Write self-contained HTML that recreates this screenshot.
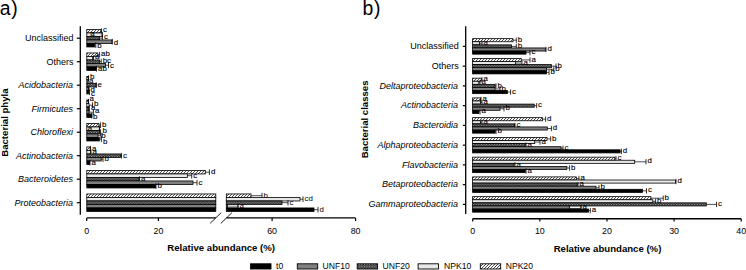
<!DOCTYPE html>
<html><head><meta charset="utf-8"><style>
html,body{margin:0;padding:0;background:#fff;width:746px;height:270px;overflow:hidden}
svg{display:block}
text{font-family:"Liberation Sans", sans-serif;fill:#000}
.s{stroke:#000;stroke-width:0.12px}
</style></head><body>
<svg width="746" height="270" viewBox="0 0 746 270">
<defs>
<pattern id="hatch" patternUnits="userSpaceOnUse" width="3" height="3">
<rect width="3" height="3" fill="#fff"/>
<path d="M-1,1 L1,-1 M0,3 L3,0 M2,4 L4,2" stroke="#333" stroke-width="0.9"/>
</pattern>
<pattern id="dots" patternUnits="userSpaceOnUse" width="2.6" height="2.4">
<rect width="2.6" height="2.4" fill="#2a2a2a"/>
<rect x="0" y="0" width="1" height="1" fill="#b0b0b0"/>
<rect x="1.3" y="1.2" width="1" height="1" fill="#b0b0b0"/>
</pattern>
</defs>
<line x1="80.3" y1="26.2" x2="80.3" y2="214.7" stroke="#000" stroke-width="1.3"/>
<line x1="76.8" y1="38.20" x2="80.3" y2="38.20" stroke="#000" stroke-width="1.2"/>
<text x="73.60" y="41.20" font-size="9.0" text-anchor="end" font-weight="normal">Unclassified</text>
<rect x="86.80" y="29.45" width="14.10" height="3.50" fill="url(#hatch)" stroke="#000" stroke-width="0.8"/>
<line x1="100.90" y1="31.20" x2="101.50" y2="31.20" stroke="#000" stroke-width="0.7"/>
<line x1="101.50" y1="28.35" x2="101.50" y2="34.05" stroke="#000" stroke-width="0.8"/>
<text x="103.00" y="31.90" font-size="7.9" text-anchor="start" font-weight="normal" class="s">c</text>
<rect x="86.80" y="32.95" width="15.20" height="3.50" fill="#e8e8e8" stroke="#000" stroke-width="0.8"/>
<line x1="102.30" y1="31.85" x2="102.30" y2="37.55" stroke="#000" stroke-width="0.8"/>
<text x="90.30" y="35.80" font-size="7.9" text-anchor="start" font-weight="normal" class="s">a</text>
<rect x="86.80" y="36.45" width="12.80" height="3.50" fill="url(#dots)" stroke="#000" stroke-width="0.8"/>
<line x1="99.60" y1="38.20" x2="102.40" y2="38.20" stroke="#000" stroke-width="0.7"/>
<line x1="102.40" y1="35.35" x2="102.40" y2="41.05" stroke="#000" stroke-width="0.8"/>
<text x="103.90" y="39.00" font-size="7.9" text-anchor="start" font-weight="normal" class="s">c</text>
<rect x="86.80" y="39.95" width="25.20" height="3.50" fill="#808080" stroke="#000" stroke-width="0.8"/>
<line x1="112.30" y1="38.85" x2="112.30" y2="44.55" stroke="#000" stroke-width="0.8"/>
<text x="113.80" y="44.60" font-size="7.9" text-anchor="start" font-weight="normal" class="s">d</text>
<rect x="86.80" y="43.45" width="7.90" height="3.50" fill="#000" stroke="#000" stroke-width="0.8"/>
<line x1="94.70" y1="45.20" x2="95.80" y2="45.20" stroke="#000" stroke-width="0.7"/>
<line x1="95.80" y1="42.35" x2="95.80" y2="48.05" stroke="#000" stroke-width="0.8"/>
<text x="97.30" y="47.60" font-size="7.9" text-anchor="start" font-weight="normal" class="s">b</text>
<line x1="76.8" y1="61.70" x2="80.3" y2="61.70" stroke="#000" stroke-width="1.2"/>
<text x="73.60" y="64.70" font-size="9.0" text-anchor="end" font-weight="normal">Others</text>
<rect x="86.80" y="52.95" width="11.00" height="3.50" fill="url(#hatch)" stroke="#000" stroke-width="0.8"/>
<line x1="97.80" y1="54.70" x2="99.60" y2="54.70" stroke="#000" stroke-width="0.7"/>
<line x1="99.60" y1="51.85" x2="99.60" y2="57.55" stroke="#000" stroke-width="0.8"/>
<text x="101.10" y="55.80" font-size="7.9" text-anchor="start" font-weight="normal" class="s">ab</text>
<rect x="86.80" y="56.45" width="5.90" height="3.50" fill="#e8e8e8" stroke="#000" stroke-width="0.8"/>
<line x1="92.70" y1="58.20" x2="93.50" y2="58.20" stroke="#000" stroke-width="0.7"/>
<line x1="93.50" y1="55.35" x2="93.50" y2="61.05" stroke="#000" stroke-width="0.8"/>
<text x="95.00" y="59.40" font-size="7.9" text-anchor="start" font-weight="normal" class="s">a</text>
<rect x="86.80" y="59.95" width="12.70" height="3.50" fill="url(#dots)" stroke="#000" stroke-width="0.8"/>
<line x1="99.50" y1="61.70" x2="101.20" y2="61.70" stroke="#000" stroke-width="0.7"/>
<line x1="101.20" y1="58.85" x2="101.20" y2="64.55" stroke="#000" stroke-width="0.8"/>
<text x="102.70" y="62.60" font-size="7.9" text-anchor="start" font-weight="normal" class="s">bc</text>
<rect x="86.80" y="63.45" width="18.60" height="3.50" fill="#808080" stroke="#000" stroke-width="0.8"/>
<line x1="105.40" y1="65.20" x2="108.50" y2="65.20" stroke="#000" stroke-width="0.7"/>
<line x1="108.50" y1="62.35" x2="108.50" y2="68.05" stroke="#000" stroke-width="0.8"/>
<text x="110.00" y="68.20" font-size="7.9" text-anchor="start" font-weight="normal" class="s">c</text>
<rect x="86.80" y="66.95" width="9.20" height="3.50" fill="#000" stroke="#000" stroke-width="0.8"/>
<line x1="96.00" y1="68.70" x2="96.50" y2="68.70" stroke="#000" stroke-width="0.7"/>
<line x1="96.50" y1="65.85" x2="96.50" y2="71.55" stroke="#000" stroke-width="0.8"/>
<text x="98.00" y="71.40" font-size="7.9" text-anchor="start" font-weight="normal" class="s">ab</text>
<line x1="76.8" y1="85.20" x2="80.3" y2="85.20" stroke="#000" stroke-width="1.2"/>
<text x="73.00" y="88.20" font-size="9.0" text-anchor="end" font-weight="normal" font-style="italic">Acidobacteria</text>
<rect x="86.80" y="76.45" width="1.70" height="3.50" fill="url(#hatch)" stroke="#000" stroke-width="0.8"/>
<line x1="88.50" y1="75.35" x2="88.50" y2="81.05" stroke="#000" stroke-width="0.8"/>
<text x="90.00" y="78.70" font-size="7.9" text-anchor="start" font-weight="normal" class="s">b</text>
<rect x="86.80" y="79.95" width="1.20" height="3.50" fill="#e8e8e8" stroke="#000" stroke-width="0.8"/>
<line x1="88.00" y1="78.85" x2="88.00" y2="84.55" stroke="#000" stroke-width="0.8"/>
<text x="88.90" y="83.10" font-size="7.9" text-anchor="start" font-weight="normal" class="s">a</text>
<rect x="86.80" y="83.45" width="9.40" height="3.50" fill="url(#dots)" stroke="#000" stroke-width="0.8"/>
<line x1="96.20" y1="82.35" x2="96.20" y2="88.05" stroke="#000" stroke-width="0.8"/>
<text x="97.50" y="86.60" font-size="7.9" text-anchor="start" font-weight="normal" class="s">e</text>
<rect x="86.80" y="86.95" width="1.70" height="3.50" fill="#808080" stroke="#000" stroke-width="0.8"/>
<line x1="88.50" y1="88.70" x2="89.00" y2="88.70" stroke="#000" stroke-width="0.7"/>
<line x1="89.00" y1="85.85" x2="89.00" y2="91.55" stroke="#000" stroke-width="0.8"/>
<text x="90.40" y="91.50" font-size="7.9" text-anchor="start" font-weight="normal" class="s">d</text>
<rect x="86.80" y="90.45" width="1.70" height="3.50" fill="#000" stroke="#000" stroke-width="0.8"/>
<line x1="88.50" y1="92.20" x2="89.50" y2="92.20" stroke="#000" stroke-width="0.7"/>
<line x1="89.50" y1="89.35" x2="89.50" y2="95.05" stroke="#000" stroke-width="0.8"/>
<text x="90.90" y="95.50" font-size="7.9" text-anchor="start" font-weight="normal" class="s">c</text>
<line x1="76.8" y1="108.70" x2="80.3" y2="108.70" stroke="#000" stroke-width="1.2"/>
<text x="73.00" y="111.70" font-size="9.0" text-anchor="end" font-weight="normal" font-style="italic">Firmicutes</text>
<rect x="86.80" y="99.95" width="1.70" height="3.50" fill="url(#hatch)" stroke="#000" stroke-width="0.8"/>
<line x1="88.50" y1="98.85" x2="88.50" y2="104.55" stroke="#000" stroke-width="0.8"/>
<text x="89.50" y="100.90" font-size="7.9" text-anchor="start" font-weight="normal" class="s">a</text>
<rect x="86.80" y="103.45" width="2.20" height="3.50" fill="#e8e8e8" stroke="#000" stroke-width="0.8"/>
<line x1="89.00" y1="105.20" x2="92.50" y2="105.20" stroke="#000" stroke-width="0.7"/>
<line x1="92.50" y1="102.35" x2="92.50" y2="108.05" stroke="#000" stroke-width="0.8"/>
<text x="94.00" y="105.80" font-size="7.9" text-anchor="start" font-weight="normal" class="s">b</text>
<rect x="86.80" y="106.95" width="1.70" height="3.50" fill="url(#dots)" stroke="#000" stroke-width="0.8"/>
<line x1="88.50" y1="108.70" x2="89.40" y2="108.70" stroke="#000" stroke-width="0.7"/>
<line x1="89.40" y1="105.85" x2="89.40" y2="111.55" stroke="#000" stroke-width="0.8"/>
<text x="90.90" y="110.20" font-size="7.9" text-anchor="start" font-weight="normal" class="s">a</text>
<rect x="86.80" y="110.45" width="2.20" height="3.50" fill="#808080" stroke="#000" stroke-width="0.8"/>
<line x1="89.00" y1="112.20" x2="93.40" y2="112.20" stroke="#000" stroke-width="0.7"/>
<line x1="93.40" y1="109.35" x2="93.40" y2="115.05" stroke="#000" stroke-width="0.8"/>
<text x="94.90" y="113.30" font-size="7.9" text-anchor="start" font-weight="normal" class="s">a</text>
<rect x="86.80" y="113.95" width="5.00" height="3.50" fill="#000" stroke="#000" stroke-width="0.8"/>
<line x1="91.80" y1="112.85" x2="91.80" y2="118.55" stroke="#000" stroke-width="0.8"/>
<text x="93.10" y="119.00" font-size="7.9" text-anchor="start" font-weight="normal" class="s">b</text>
<line x1="76.8" y1="132.20" x2="80.3" y2="132.20" stroke="#000" stroke-width="1.2"/>
<text x="73.00" y="135.20" font-size="9.0" text-anchor="end" font-weight="normal" font-style="italic">Chloroflexi</text>
<rect x="86.80" y="123.45" width="12.10" height="3.50" fill="url(#hatch)" stroke="#000" stroke-width="0.8"/>
<line x1="98.90" y1="125.20" x2="100.60" y2="125.20" stroke="#000" stroke-width="0.7"/>
<line x1="100.60" y1="122.35" x2="100.60" y2="128.05" stroke="#000" stroke-width="0.8"/>
<text x="102.00" y="126.70" font-size="7.9" text-anchor="start" font-weight="normal" class="s">b</text>
<rect x="86.80" y="126.95" width="12.50" height="3.50" fill="#e8e8e8" stroke="#000" stroke-width="0.8"/>
<line x1="99.60" y1="125.85" x2="99.60" y2="131.55" stroke="#000" stroke-width="0.8"/>
<text x="87.80" y="130.70" font-size="7.9" text-anchor="start" font-weight="normal" class="s">a</text>
<rect x="86.80" y="130.45" width="12.90" height="3.50" fill="url(#dots)" stroke="#000" stroke-width="0.8"/>
<line x1="99.70" y1="132.20" x2="100.60" y2="132.20" stroke="#000" stroke-width="0.7"/>
<line x1="100.60" y1="129.35" x2="100.60" y2="135.05" stroke="#000" stroke-width="0.8"/>
<text x="102.40" y="133.30" font-size="7.9" text-anchor="start" font-weight="normal" class="s">b</text>
<rect x="86.80" y="133.95" width="11.20" height="3.50" fill="#808080" stroke="#000" stroke-width="0.8"/>
<line x1="98.00" y1="135.70" x2="101.00" y2="135.70" stroke="#000" stroke-width="0.7"/>
<line x1="101.00" y1="132.85" x2="101.00" y2="138.55" stroke="#000" stroke-width="0.8"/>
<text x="101.20" y="138.00" font-size="7.9" text-anchor="start" font-weight="normal" class="s">b</text>
<rect x="86.80" y="137.45" width="12.50" height="3.50" fill="#000" stroke="#000" stroke-width="0.8"/>
<line x1="99.30" y1="139.20" x2="101.40" y2="139.20" stroke="#000" stroke-width="0.7"/>
<line x1="101.40" y1="136.35" x2="101.40" y2="142.05" stroke="#000" stroke-width="0.8"/>
<text x="102.90" y="144.00" font-size="7.9" text-anchor="start" font-weight="normal" class="s">b</text>
<line x1="76.8" y1="155.70" x2="80.3" y2="155.70" stroke="#000" stroke-width="1.2"/>
<text x="73.00" y="158.70" font-size="9.0" text-anchor="end" font-weight="normal" font-style="italic">Actinobacteria</text>
<rect x="86.80" y="146.95" width="3.30" height="3.50" fill="url(#hatch)" stroke="#000" stroke-width="0.8"/>
<line x1="90.10" y1="148.70" x2="90.50" y2="148.70" stroke="#000" stroke-width="0.7"/>
<line x1="90.50" y1="145.85" x2="90.50" y2="151.55" stroke="#000" stroke-width="0.8"/>
<text x="92.00" y="150.70" font-size="7.9" text-anchor="start" font-weight="normal" class="s">a</text>
<rect x="86.80" y="150.45" width="3.80" height="3.50" fill="#e8e8e8" stroke="#000" stroke-width="0.8"/>
<line x1="90.60" y1="152.20" x2="91.00" y2="152.20" stroke="#000" stroke-width="0.7"/>
<line x1="91.00" y1="149.35" x2="91.00" y2="155.05" stroke="#000" stroke-width="0.8"/>
<text x="92.50" y="154.20" font-size="7.9" text-anchor="start" font-weight="normal" class="s">a</text>
<rect x="86.80" y="153.95" width="33.70" height="3.50" fill="url(#dots)" stroke="#000" stroke-width="0.8"/>
<line x1="120.50" y1="155.70" x2="121.50" y2="155.70" stroke="#000" stroke-width="0.7"/>
<line x1="121.50" y1="152.85" x2="121.50" y2="158.55" stroke="#000" stroke-width="0.8"/>
<text x="123.00" y="157.70" font-size="7.9" text-anchor="start" font-weight="normal" class="s">c</text>
<rect x="86.80" y="157.45" width="14.40" height="3.50" fill="#808080" stroke="#000" stroke-width="0.8"/>
<line x1="101.20" y1="159.20" x2="103.00" y2="159.20" stroke="#000" stroke-width="0.7"/>
<line x1="103.00" y1="156.35" x2="103.00" y2="162.05" stroke="#000" stroke-width="0.8"/>
<text x="104.50" y="161.20" font-size="7.9" text-anchor="start" font-weight="normal" class="s">b</text>
<rect x="86.80" y="160.95" width="2.80" height="3.50" fill="#000" stroke="#000" stroke-width="0.8"/>
<line x1="89.60" y1="162.70" x2="90.00" y2="162.70" stroke="#000" stroke-width="0.7"/>
<line x1="90.00" y1="159.85" x2="90.00" y2="165.55" stroke="#000" stroke-width="0.8"/>
<text x="91.50" y="164.70" font-size="7.9" text-anchor="start" font-weight="normal" class="s">a</text>
<line x1="76.8" y1="179.20" x2="80.3" y2="179.20" stroke="#000" stroke-width="1.2"/>
<text x="73.00" y="182.20" font-size="9.0" text-anchor="end" font-weight="normal" font-style="italic">Bacteroidetes</text>
<rect x="86.80" y="170.45" width="118.50" height="3.50" fill="url(#hatch)" stroke="#000" stroke-width="0.8"/>
<line x1="205.30" y1="172.20" x2="209.40" y2="172.20" stroke="#000" stroke-width="0.7"/>
<line x1="209.40" y1="169.35" x2="209.40" y2="175.05" stroke="#000" stroke-width="0.8"/>
<text x="210.90" y="174.20" font-size="7.9" text-anchor="start" font-weight="normal" class="s">d</text>
<rect x="86.80" y="173.95" width="100.60" height="3.50" fill="#e8e8e8" stroke="#000" stroke-width="0.8"/>
<line x1="187.40" y1="175.70" x2="191.70" y2="175.70" stroke="#000" stroke-width="0.7"/>
<line x1="191.70" y1="172.85" x2="191.70" y2="178.55" stroke="#000" stroke-width="0.8"/>
<text x="193.20" y="177.70" font-size="7.9" text-anchor="start" font-weight="normal" class="s">c</text>
<rect x="86.80" y="177.45" width="52.20" height="3.50" fill="url(#dots)" stroke="#000" stroke-width="0.8"/>
<line x1="139.00" y1="179.20" x2="139.50" y2="179.20" stroke="#000" stroke-width="0.7"/>
<line x1="139.50" y1="176.35" x2="139.50" y2="182.05" stroke="#000" stroke-width="0.8"/>
<text x="141.00" y="181.20" font-size="7.9" text-anchor="start" font-weight="normal" class="s">a</text>
<rect x="86.80" y="180.95" width="106.20" height="3.50" fill="#808080" stroke="#000" stroke-width="0.8"/>
<line x1="193.00" y1="182.70" x2="197.00" y2="182.70" stroke="#000" stroke-width="0.7"/>
<line x1="197.00" y1="179.85" x2="197.00" y2="185.55" stroke="#000" stroke-width="0.8"/>
<text x="198.50" y="184.70" font-size="7.9" text-anchor="start" font-weight="normal" class="s">c</text>
<rect x="86.80" y="184.45" width="68.60" height="3.50" fill="#000" stroke="#000" stroke-width="0.8"/>
<line x1="155.40" y1="186.20" x2="156.00" y2="186.20" stroke="#000" stroke-width="0.7"/>
<line x1="156.00" y1="183.35" x2="156.00" y2="189.05" stroke="#000" stroke-width="0.8"/>
<text x="157.50" y="188.20" font-size="7.9" text-anchor="start" font-weight="normal" class="s">b</text>
<line x1="76.8" y1="202.70" x2="80.3" y2="202.70" stroke="#000" stroke-width="1.2"/>
<text x="73.00" y="205.70" font-size="9.0" text-anchor="end" font-weight="normal" font-style="italic">Proteobacteria</text>
<rect x="86.80" y="193.95" width="129.00" height="3.50" fill="url(#hatch)" stroke="#000" stroke-width="0.8"/>
<rect x="226.30" y="193.95" width="24.70" height="3.50" fill="url(#hatch)" stroke="#000" stroke-width="0.8"/>
<line x1="251.00" y1="195.70" x2="262.00" y2="195.70" stroke="#000" stroke-width="0.7"/>
<line x1="262.00" y1="192.85" x2="262.00" y2="198.55" stroke="#000" stroke-width="0.8"/>
<text x="263.50" y="197.90" font-size="7.9" text-anchor="start" font-weight="normal">b</text>
<rect x="86.80" y="197.45" width="129.00" height="3.50" fill="#e8e8e8" stroke="#000" stroke-width="0.8"/>
<rect x="226.30" y="197.45" width="73.70" height="3.50" fill="#e8e8e8" stroke="#000" stroke-width="0.8"/>
<line x1="300.00" y1="199.20" x2="303.00" y2="199.20" stroke="#000" stroke-width="0.7"/>
<line x1="303.00" y1="196.35" x2="303.00" y2="202.05" stroke="#000" stroke-width="0.8"/>
<text x="304.50" y="201.40" font-size="7.9" text-anchor="start" font-weight="normal">cd</text>
<rect x="86.80" y="200.95" width="129.00" height="3.50" fill="url(#dots)" stroke="#000" stroke-width="0.8"/>
<rect x="226.30" y="200.95" width="55.70" height="3.50" fill="url(#dots)" stroke="#000" stroke-width="0.8"/>
<line x1="282.00" y1="202.70" x2="288.00" y2="202.70" stroke="#000" stroke-width="0.7"/>
<line x1="288.00" y1="199.85" x2="288.00" y2="205.55" stroke="#000" stroke-width="0.8"/>
<text x="289.50" y="204.90" font-size="7.9" text-anchor="start" font-weight="normal">c</text>
<rect x="86.80" y="204.45" width="129.00" height="3.50" fill="#808080" stroke="#000" stroke-width="0.8"/>
<rect x="226.30" y="204.45" width="1.20" height="3.50" fill="#808080" stroke="#000" stroke-width="0.8"/>
<rect x="227.50" y="204.80" width="10.50" height="2.2" fill="#fff" stroke="#000" stroke-width="0.7"/>
<line x1="238.00" y1="203.35" x2="238.00" y2="209.05" stroke="#000" stroke-width="0.8"/>
<text x="239.50" y="208.40" font-size="7.9" text-anchor="start" font-weight="normal">a</text>
<rect x="86.80" y="207.95" width="129.00" height="3.50" fill="#000" stroke="#000" stroke-width="0.8"/>
<rect x="226.30" y="207.95" width="87.70" height="3.50" fill="#000" stroke="#000" stroke-width="0.8"/>
<line x1="314.00" y1="209.70" x2="318.00" y2="209.70" stroke="#000" stroke-width="0.7"/>
<line x1="318.00" y1="206.85" x2="318.00" y2="212.55" stroke="#000" stroke-width="0.8"/>
<text x="319.50" y="211.90" font-size="7.9" text-anchor="start" font-weight="normal">d</text>
<line x1="86.7" y1="217.9" x2="215.8" y2="217.9" stroke="#000" stroke-width="1.4"/>
<line x1="226.4" y1="217.9" x2="355.6" y2="217.9" stroke="#000" stroke-width="1.4"/>
<line x1="210.2" y1="223.3" x2="221.2" y2="212.7" stroke="#000" stroke-width="0.9"/>
<line x1="220.9" y1="223.3" x2="231.9" y2="212.7" stroke="#000" stroke-width="0.9"/>
<line x1="86.7" y1="217.9" x2="86.7" y2="221" stroke="#000" stroke-width="1.2"/>
<text x="86.70" y="233.70" font-size="8.9" text-anchor="middle" font-weight="normal">0</text>
<line x1="158.4" y1="217.9" x2="158.4" y2="221" stroke="#000" stroke-width="1.2"/>
<text x="158.40" y="233.70" font-size="8.9" text-anchor="middle" font-weight="normal">20</text>
<line x1="272.1" y1="217.9" x2="272.1" y2="221" stroke="#000" stroke-width="1.2"/>
<text x="272.10" y="233.70" font-size="8.9" text-anchor="middle" font-weight="normal">60</text>
<line x1="355.6" y1="217.9" x2="355.6" y2="221" stroke="#000" stroke-width="1.2"/>
<text x="355.60" y="233.70" font-size="8.9" text-anchor="middle" font-weight="normal">80</text>
<text x="221.20" y="251.30" font-size="9.6" text-anchor="middle" font-weight="bold">Relative abundance (%)</text>
<text transform="translate(7.9,122.6) rotate(-90)" font-size="9.6" font-weight="bold" text-anchor="middle">Bacterial phyla</text>
<text x="-0.3" y="14.7" font-size="19.4" letter-spacing="0.8">a)</text>
<line x1="465.7" y1="26.3" x2="465.7" y2="214" stroke="#000" stroke-width="1.3"/>
<line x1="462.8" y1="46.40" x2="465.7" y2="46.40" stroke="#000" stroke-width="1.2"/>
<text x="458.80" y="49.20" font-size="9.0" text-anchor="end" font-weight="normal">Unclassified</text>
<rect x="472.60" y="38.65" width="40.40" height="3.10" fill="url(#hatch)" stroke="#000" stroke-width="0.8"/>
<line x1="513.00" y1="40.20" x2="516.30" y2="40.20" stroke="#000" stroke-width="0.7"/>
<line x1="516.30" y1="37.55" x2="516.30" y2="42.85" stroke="#000" stroke-width="0.8"/>
<text x="517.70" y="41.80" font-size="7.9" text-anchor="start" font-weight="normal" class="s">b</text>
<rect x="472.60" y="41.75" width="7.00" height="3.10" fill="#e8e8e8" stroke="#000" stroke-width="0.8"/>
<line x1="479.60" y1="43.30" x2="482.00" y2="43.30" stroke="#000" stroke-width="0.7"/>
<line x1="482.00" y1="40.65" x2="482.00" y2="45.95" stroke="#000" stroke-width="0.8"/>
<text x="483.40" y="44.90" font-size="7.9" text-anchor="start" font-weight="normal" class="s">a</text>
<rect x="472.60" y="44.85" width="38.80" height="3.10" fill="url(#dots)" stroke="#000" stroke-width="0.8"/>
<line x1="511.40" y1="46.40" x2="516.30" y2="46.40" stroke="#000" stroke-width="0.7"/>
<line x1="516.30" y1="43.75" x2="516.30" y2="49.05" stroke="#000" stroke-width="0.8"/>
<text x="517.70" y="48.00" font-size="7.9" text-anchor="start" font-weight="normal" class="s">b</text>
<rect x="472.60" y="47.95" width="73.00" height="3.10" fill="#808080" stroke="#000" stroke-width="0.8"/>
<line x1="545.60" y1="49.50" x2="546.00" y2="49.50" stroke="#000" stroke-width="0.7"/>
<line x1="546.00" y1="46.85" x2="546.00" y2="52.15" stroke="#000" stroke-width="0.8"/>
<text x="547.40" y="51.10" font-size="7.9" text-anchor="start" font-weight="normal" class="s">d</text>
<rect x="472.60" y="51.05" width="53.40" height="3.10" fill="#000" stroke="#000" stroke-width="0.8"/>
<line x1="526.00" y1="52.60" x2="530.00" y2="52.60" stroke="#000" stroke-width="0.7"/>
<line x1="530.00" y1="49.95" x2="530.00" y2="55.25" stroke="#000" stroke-width="0.8"/>
<text x="531.40" y="54.20" font-size="7.9" text-anchor="start" font-weight="normal" class="s">c</text>
<line x1="462.8" y1="66.15" x2="465.7" y2="66.15" stroke="#000" stroke-width="1.2"/>
<text x="458.80" y="68.95" font-size="9.0" text-anchor="end" font-weight="normal">Others</text>
<rect x="472.60" y="58.40" width="48.60" height="3.10" fill="url(#hatch)" stroke="#000" stroke-width="0.8"/>
<line x1="521.20" y1="59.95" x2="530.00" y2="59.95" stroke="#000" stroke-width="0.7"/>
<line x1="530.00" y1="57.30" x2="530.00" y2="62.60" stroke="#000" stroke-width="0.8"/>
<text x="531.40" y="61.55" font-size="7.9" text-anchor="start" font-weight="normal" class="s">a</text>
<rect x="472.60" y="61.50" width="42.90" height="3.10" fill="#e8e8e8" stroke="#000" stroke-width="0.8"/>
<line x1="515.50" y1="63.05" x2="522.00" y2="63.05" stroke="#000" stroke-width="0.7"/>
<line x1="522.00" y1="60.40" x2="522.00" y2="65.70" stroke="#000" stroke-width="0.8"/>
<text x="523.40" y="64.65" font-size="7.9" text-anchor="start" font-weight="normal" class="s">a</text>
<rect x="472.60" y="64.60" width="78.80" height="3.10" fill="url(#dots)" stroke="#000" stroke-width="0.8"/>
<line x1="551.40" y1="66.15" x2="556.00" y2="66.15" stroke="#000" stroke-width="0.7"/>
<line x1="556.00" y1="63.50" x2="556.00" y2="68.80" stroke="#000" stroke-width="0.8"/>
<text x="557.40" y="67.75" font-size="7.9" text-anchor="start" font-weight="normal" class="s">b</text>
<rect x="472.60" y="67.70" width="73.90" height="3.10" fill="#808080" stroke="#000" stroke-width="0.8"/>
<line x1="546.50" y1="69.25" x2="553.80" y2="69.25" stroke="#000" stroke-width="0.7"/>
<line x1="553.80" y1="66.60" x2="553.80" y2="71.90" stroke="#000" stroke-width="0.8"/>
<text x="555.20" y="70.85" font-size="7.9" text-anchor="start" font-weight="normal" class="s">b</text>
<rect x="472.60" y="70.80" width="73.90" height="3.10" fill="#000" stroke="#000" stroke-width="0.8"/>
<line x1="546.50" y1="72.35" x2="549.00" y2="72.35" stroke="#000" stroke-width="0.7"/>
<line x1="549.00" y1="69.70" x2="549.00" y2="75.00" stroke="#000" stroke-width="0.8"/>
<text x="550.40" y="73.95" font-size="7.9" text-anchor="start" font-weight="normal" class="s">b</text>
<line x1="462.8" y1="85.90" x2="465.7" y2="85.90" stroke="#000" stroke-width="1.2"/>
<text x="458.10" y="88.70" font-size="9.0" text-anchor="end" font-weight="normal" font-style="italic">Deltaproteobacteria</text>
<rect x="472.60" y="78.15" width="8.60" height="3.10" fill="url(#hatch)" stroke="#000" stroke-width="0.8"/>
<line x1="481.20" y1="79.70" x2="482.00" y2="79.70" stroke="#000" stroke-width="0.7"/>
<line x1="482.00" y1="77.05" x2="482.00" y2="82.35" stroke="#000" stroke-width="0.8"/>
<text x="483.40" y="81.30" font-size="7.9" text-anchor="start" font-weight="normal" class="s">a</text>
<rect x="472.60" y="81.25" width="6.20" height="3.10" fill="#e8e8e8" stroke="#000" stroke-width="0.8"/>
<line x1="478.80" y1="82.80" x2="480.00" y2="82.80" stroke="#000" stroke-width="0.7"/>
<line x1="480.00" y1="80.15" x2="480.00" y2="85.45" stroke="#000" stroke-width="0.8"/>
<text x="481.40" y="84.40" font-size="7.9" text-anchor="start" font-weight="normal" class="s">a</text>
<rect x="472.60" y="84.35" width="22.40" height="3.10" fill="url(#dots)" stroke="#000" stroke-width="0.8"/>
<line x1="495.00" y1="85.90" x2="496.00" y2="85.90" stroke="#000" stroke-width="0.7"/>
<line x1="496.00" y1="83.25" x2="496.00" y2="88.55" stroke="#000" stroke-width="0.8"/>
<text x="497.40" y="87.50" font-size="7.9" text-anchor="start" font-weight="normal" class="s">b</text>
<rect x="472.60" y="87.45" width="22.40" height="3.10" fill="#808080" stroke="#000" stroke-width="0.8"/>
<line x1="495.00" y1="89.00" x2="500.00" y2="89.00" stroke="#000" stroke-width="0.7"/>
<line x1="500.00" y1="86.35" x2="500.00" y2="91.65" stroke="#000" stroke-width="0.8"/>
<text x="501.40" y="90.60" font-size="7.9" text-anchor="start" font-weight="normal" class="s">b</text>
<rect x="472.60" y="90.55" width="34.70" height="3.10" fill="#000" stroke="#000" stroke-width="0.8"/>
<line x1="507.30" y1="92.10" x2="510.60" y2="92.10" stroke="#000" stroke-width="0.7"/>
<line x1="510.60" y1="89.45" x2="510.60" y2="94.75" stroke="#000" stroke-width="0.8"/>
<text x="512.00" y="93.70" font-size="7.9" text-anchor="start" font-weight="normal" class="s">c</text>
<line x1="462.8" y1="105.65" x2="465.7" y2="105.65" stroke="#000" stroke-width="1.2"/>
<text x="458.10" y="108.45" font-size="9.0" text-anchor="end" font-weight="normal" font-style="italic">Actinobacteria</text>
<rect x="472.60" y="97.90" width="7.80" height="3.10" fill="url(#hatch)" stroke="#000" stroke-width="0.8"/>
<line x1="480.40" y1="99.45" x2="481.00" y2="99.45" stroke="#000" stroke-width="0.7"/>
<line x1="481.00" y1="96.80" x2="481.00" y2="102.10" stroke="#000" stroke-width="0.8"/>
<text x="482.40" y="101.05" font-size="7.9" text-anchor="start" font-weight="normal" class="s">a</text>
<rect x="472.60" y="101.00" width="7.80" height="3.10" fill="#e8e8e8" stroke="#000" stroke-width="0.8"/>
<line x1="480.40" y1="102.55" x2="482.00" y2="102.55" stroke="#000" stroke-width="0.7"/>
<line x1="482.00" y1="99.90" x2="482.00" y2="105.20" stroke="#000" stroke-width="0.8"/>
<text x="483.40" y="104.15" font-size="7.9" text-anchor="start" font-weight="normal" class="s">a</text>
<rect x="472.60" y="104.10" width="61.60" height="3.10" fill="url(#dots)" stroke="#000" stroke-width="0.8"/>
<line x1="534.20" y1="105.65" x2="536.70" y2="105.65" stroke="#000" stroke-width="0.7"/>
<line x1="536.70" y1="103.00" x2="536.70" y2="108.30" stroke="#000" stroke-width="0.8"/>
<text x="538.10" y="107.25" font-size="7.9" text-anchor="start" font-weight="normal" class="s">c</text>
<rect x="472.60" y="107.20" width="27.40" height="3.10" fill="#808080" stroke="#000" stroke-width="0.8"/>
<line x1="500.00" y1="108.75" x2="504.00" y2="108.75" stroke="#000" stroke-width="0.7"/>
<line x1="504.00" y1="106.10" x2="504.00" y2="111.40" stroke="#000" stroke-width="0.8"/>
<text x="505.40" y="110.35" font-size="7.9" text-anchor="start" font-weight="normal" class="s">b</text>
<rect x="472.60" y="110.30" width="6.20" height="3.10" fill="#000" stroke="#000" stroke-width="0.8"/>
<line x1="478.80" y1="111.85" x2="480.00" y2="111.85" stroke="#000" stroke-width="0.7"/>
<line x1="480.00" y1="109.20" x2="480.00" y2="114.50" stroke="#000" stroke-width="0.8"/>
<text x="481.40" y="113.45" font-size="7.9" text-anchor="start" font-weight="normal" class="s">a</text>
<line x1="462.8" y1="125.40" x2="465.7" y2="125.40" stroke="#000" stroke-width="1.2"/>
<text x="458.10" y="128.20" font-size="9.0" text-anchor="end" font-weight="normal" font-style="italic">Bacteroidia</text>
<rect x="472.60" y="117.65" width="69.80" height="3.10" fill="url(#hatch)" stroke="#000" stroke-width="0.8"/>
<line x1="542.40" y1="119.20" x2="545.60" y2="119.20" stroke="#000" stroke-width="0.7"/>
<line x1="545.60" y1="116.55" x2="545.60" y2="121.85" stroke="#000" stroke-width="0.8"/>
<text x="547.00" y="120.80" font-size="7.9" text-anchor="start" font-weight="normal" class="s">d</text>
<rect x="472.60" y="120.75" width="7.80" height="3.10" fill="#e8e8e8" stroke="#000" stroke-width="0.8"/>
<line x1="480.40" y1="122.30" x2="482.00" y2="122.30" stroke="#000" stroke-width="0.7"/>
<line x1="482.00" y1="119.65" x2="482.00" y2="124.95" stroke="#000" stroke-width="0.8"/>
<text x="483.40" y="123.90" font-size="7.9" text-anchor="start" font-weight="normal" class="s">a</text>
<rect x="472.60" y="123.85" width="42.00" height="3.10" fill="url(#dots)" stroke="#000" stroke-width="0.8"/>
<line x1="514.60" y1="125.40" x2="515.00" y2="125.40" stroke="#000" stroke-width="0.7"/>
<line x1="515.00" y1="122.75" x2="515.00" y2="128.05" stroke="#000" stroke-width="0.8"/>
<text x="516.40" y="127.00" font-size="7.9" text-anchor="start" font-weight="normal" class="s">c</text>
<rect x="472.60" y="126.95" width="74.70" height="3.10" fill="#808080" stroke="#000" stroke-width="0.8"/>
<line x1="547.30" y1="128.50" x2="551.40" y2="128.50" stroke="#000" stroke-width="0.7"/>
<line x1="551.40" y1="125.85" x2="551.40" y2="131.15" stroke="#000" stroke-width="0.8"/>
<text x="552.80" y="130.10" font-size="7.9" text-anchor="start" font-weight="normal" class="s">d</text>
<rect x="472.60" y="130.05" width="22.40" height="3.10" fill="#000" stroke="#000" stroke-width="0.8"/>
<line x1="495.00" y1="131.60" x2="496.00" y2="131.60" stroke="#000" stroke-width="0.7"/>
<line x1="496.00" y1="128.95" x2="496.00" y2="134.25" stroke="#000" stroke-width="0.8"/>
<text x="497.40" y="133.20" font-size="7.9" text-anchor="start" font-weight="normal" class="s">b</text>
<line x1="462.8" y1="145.15" x2="465.7" y2="145.15" stroke="#000" stroke-width="1.2"/>
<text x="458.10" y="147.95" font-size="9.0" text-anchor="end" font-weight="normal" font-style="italic">Alphaproteobacteria</text>
<rect x="472.60" y="137.40" width="74.40" height="3.10" fill="url(#hatch)" stroke="#000" stroke-width="0.8"/>
<line x1="547.00" y1="138.95" x2="550.70" y2="138.95" stroke="#000" stroke-width="0.7"/>
<line x1="550.70" y1="136.30" x2="550.70" y2="141.60" stroke="#000" stroke-width="0.8"/>
<text x="552.10" y="140.55" font-size="7.9" text-anchor="start" font-weight="normal" class="s">b</text>
<rect x="472.60" y="140.50" width="62.10" height="3.10" fill="#e8e8e8" stroke="#000" stroke-width="0.8"/>
<line x1="534.70" y1="142.05" x2="540.00" y2="142.05" stroke="#000" stroke-width="0.7"/>
<line x1="540.00" y1="139.40" x2="540.00" y2="144.70" stroke="#000" stroke-width="0.8"/>
<text x="541.40" y="143.65" font-size="7.9" text-anchor="start" font-weight="normal" class="s">a</text>
<rect x="472.60" y="143.60" width="52.60" height="3.10" fill="url(#dots)" stroke="#000" stroke-width="0.8"/>
<line x1="525.20" y1="145.15" x2="526.00" y2="145.15" stroke="#000" stroke-width="0.7"/>
<line x1="526.00" y1="142.50" x2="526.00" y2="147.80" stroke="#000" stroke-width="0.8"/>
<text x="527.40" y="146.75" font-size="7.9" text-anchor="start" font-weight="normal" class="s">a</text>
<rect x="472.60" y="146.70" width="88.40" height="3.10" fill="#808080" stroke="#000" stroke-width="0.8"/>
<line x1="561.00" y1="148.25" x2="563.00" y2="148.25" stroke="#000" stroke-width="0.7"/>
<line x1="563.00" y1="145.60" x2="563.00" y2="150.90" stroke="#000" stroke-width="0.8"/>
<text x="564.40" y="149.85" font-size="7.9" text-anchor="start" font-weight="normal" class="s">c</text>
<rect x="472.60" y="149.80" width="147.50" height="3.10" fill="#000" stroke="#000" stroke-width="0.8"/>
<line x1="620.10" y1="151.35" x2="621.40" y2="151.35" stroke="#000" stroke-width="0.7"/>
<line x1="621.40" y1="148.70" x2="621.40" y2="154.00" stroke="#000" stroke-width="0.8"/>
<text x="622.80" y="152.95" font-size="7.9" text-anchor="start" font-weight="normal" class="s">d</text>
<line x1="462.8" y1="164.90" x2="465.7" y2="164.90" stroke="#000" stroke-width="1.2"/>
<text x="458.10" y="167.70" font-size="9.0" text-anchor="end" font-weight="normal" font-style="italic">Flavobacteriia</text>
<rect x="472.60" y="157.15" width="142.20" height="3.10" fill="url(#hatch)" stroke="#000" stroke-width="0.8"/>
<line x1="614.80" y1="158.70" x2="616.00" y2="158.70" stroke="#000" stroke-width="0.7"/>
<line x1="616.00" y1="156.05" x2="616.00" y2="161.35" stroke="#000" stroke-width="0.8"/>
<text x="617.40" y="160.30" font-size="7.9" text-anchor="start" font-weight="normal" class="s">c</text>
<rect x="472.60" y="160.25" width="162.10" height="3.10" fill="#e8e8e8" stroke="#000" stroke-width="0.8"/>
<line x1="634.70" y1="161.80" x2="646.00" y2="161.80" stroke="#000" stroke-width="0.7"/>
<line x1="646.00" y1="159.15" x2="646.00" y2="164.45" stroke="#000" stroke-width="0.8"/>
<text x="647.40" y="163.40" font-size="7.9" text-anchor="start" font-weight="normal" class="s">d</text>
<rect x="472.60" y="163.35" width="41.30" height="3.10" fill="url(#dots)" stroke="#000" stroke-width="0.8"/>
<line x1="513.90" y1="164.90" x2="515.00" y2="164.90" stroke="#000" stroke-width="0.7"/>
<line x1="515.00" y1="162.25" x2="515.00" y2="167.55" stroke="#000" stroke-width="0.8"/>
<text x="516.40" y="166.50" font-size="7.9" text-anchor="start" font-weight="normal" class="s">a</text>
<rect x="472.60" y="166.45" width="94.20" height="3.10" fill="#808080" stroke="#000" stroke-width="0.8"/>
<line x1="566.80" y1="168.00" x2="569.60" y2="168.00" stroke="#000" stroke-width="0.7"/>
<line x1="569.60" y1="165.35" x2="569.60" y2="170.65" stroke="#000" stroke-width="0.8"/>
<text x="571.00" y="169.60" font-size="7.9" text-anchor="start" font-weight="normal" class="s">b</text>
<rect x="472.60" y="169.55" width="52.60" height="3.10" fill="#000" stroke="#000" stroke-width="0.8"/>
<line x1="525.20" y1="171.10" x2="526.00" y2="171.10" stroke="#000" stroke-width="0.7"/>
<line x1="526.00" y1="168.45" x2="526.00" y2="173.75" stroke="#000" stroke-width="0.8"/>
<text x="527.40" y="172.70" font-size="7.9" text-anchor="start" font-weight="normal" class="s">a</text>
<line x1="462.8" y1="184.65" x2="465.7" y2="184.65" stroke="#000" stroke-width="1.2"/>
<text x="458.10" y="187.45" font-size="9.0" text-anchor="end" font-weight="normal" font-style="italic">Betaproteobacteria</text>
<rect x="472.60" y="176.90" width="103.70" height="3.10" fill="url(#hatch)" stroke="#000" stroke-width="0.8"/>
<line x1="576.30" y1="178.45" x2="579.00" y2="178.45" stroke="#000" stroke-width="0.7"/>
<line x1="579.00" y1="175.80" x2="579.00" y2="181.10" stroke="#000" stroke-width="0.8"/>
<text x="580.40" y="180.05" font-size="7.9" text-anchor="start" font-weight="normal" class="s">a</text>
<rect x="472.60" y="180.00" width="202.90" height="3.10" fill="#e8e8e8" stroke="#000" stroke-width="0.8"/>
<line x1="675.50" y1="181.55" x2="676.00" y2="181.55" stroke="#000" stroke-width="0.7"/>
<line x1="676.00" y1="178.90" x2="676.00" y2="184.20" stroke="#000" stroke-width="0.8"/>
<text x="677.40" y="183.15" font-size="7.9" text-anchor="start" font-weight="normal" class="s">d</text>
<rect x="472.60" y="183.10" width="104.60" height="3.10" fill="url(#dots)" stroke="#000" stroke-width="0.8"/>
<line x1="577.20" y1="184.65" x2="578.00" y2="184.65" stroke="#000" stroke-width="0.7"/>
<line x1="578.00" y1="182.00" x2="578.00" y2="187.30" stroke="#000" stroke-width="0.8"/>
<text x="579.40" y="186.25" font-size="7.9" text-anchor="start" font-weight="normal" class="s">a</text>
<rect x="472.60" y="186.20" width="123.40" height="3.10" fill="#808080" stroke="#000" stroke-width="0.8"/>
<line x1="596.00" y1="187.75" x2="599.00" y2="187.75" stroke="#000" stroke-width="0.7"/>
<line x1="599.00" y1="185.10" x2="599.00" y2="190.40" stroke="#000" stroke-width="0.8"/>
<text x="600.40" y="189.35" font-size="7.9" text-anchor="start" font-weight="normal" class="s">b</text>
<rect x="472.60" y="189.30" width="169.80" height="3.10" fill="#000" stroke="#000" stroke-width="0.8"/>
<line x1="642.40" y1="190.85" x2="646.50" y2="190.85" stroke="#000" stroke-width="0.7"/>
<line x1="646.50" y1="188.20" x2="646.50" y2="193.50" stroke="#000" stroke-width="0.8"/>
<text x="647.90" y="192.45" font-size="7.9" text-anchor="start" font-weight="normal" class="s">c</text>
<line x1="462.8" y1="204.40" x2="465.7" y2="204.40" stroke="#000" stroke-width="1.2"/>
<text x="458.10" y="207.20" font-size="9.0" text-anchor="end" font-weight="normal" font-style="italic">Gammaproteobacteria</text>
<rect x="472.60" y="196.65" width="178.30" height="3.10" fill="url(#hatch)" stroke="#000" stroke-width="0.8"/>
<line x1="650.90" y1="198.20" x2="663.20" y2="198.20" stroke="#000" stroke-width="0.7"/>
<line x1="663.20" y1="195.55" x2="663.20" y2="200.85" stroke="#000" stroke-width="0.8"/>
<text x="664.60" y="199.80" font-size="7.9" text-anchor="start" font-weight="normal" class="s">b</text>
<rect x="472.60" y="199.75" width="180.20" height="3.10" fill="#e8e8e8" stroke="#000" stroke-width="0.8"/>
<line x1="652.80" y1="201.30" x2="655.60" y2="201.30" stroke="#000" stroke-width="0.7"/>
<line x1="655.60" y1="198.65" x2="655.60" y2="203.95" stroke="#000" stroke-width="0.8"/>
<text x="657.00" y="202.90" font-size="7.9" text-anchor="start" font-weight="normal" class="s">b</text>
<rect x="472.60" y="202.85" width="233.70" height="3.10" fill="url(#dots)" stroke="#000" stroke-width="0.8"/>
<line x1="706.30" y1="204.40" x2="716.50" y2="204.40" stroke="#000" stroke-width="0.7"/>
<line x1="716.50" y1="201.75" x2="716.50" y2="207.05" stroke="#000" stroke-width="0.8"/>
<text x="717.90" y="206.00" font-size="7.9" text-anchor="start" font-weight="normal" class="s">c</text>
<rect x="472.60" y="205.95" width="97.00" height="3.10" fill="#808080" stroke="#000" stroke-width="0.8"/>
<rect x="569.60" y="206.10" width="11.40" height="2.2" fill="#fff" stroke="#000" stroke-width="0.7"/>
<line x1="581.00" y1="204.85" x2="581.00" y2="210.15" stroke="#000" stroke-width="0.8"/>
<text x="582.40" y="209.10" font-size="7.9" text-anchor="start" font-weight="normal" class="s">a</text>
<rect x="472.60" y="209.05" width="115.90" height="3.10" fill="#000" stroke="#000" stroke-width="0.8"/>
<line x1="588.50" y1="210.60" x2="590.30" y2="210.60" stroke="#000" stroke-width="0.7"/>
<line x1="590.30" y1="207.95" x2="590.30" y2="213.25" stroke="#000" stroke-width="0.8"/>
<text x="591.70" y="212.20" font-size="7.9" text-anchor="start" font-weight="normal" class="s">a</text>
<line x1="472.7" y1="218.7" x2="741.2" y2="218.7" stroke="#000" stroke-width="1.4"/>
<line x1="472.70" y1="218.7" x2="472.70" y2="221.5" stroke="#000" stroke-width="1.2"/>
<text x="472.70" y="234.20" font-size="8.9" text-anchor="middle" font-weight="normal">0</text>
<line x1="539.83" y1="218.7" x2="539.83" y2="221.5" stroke="#000" stroke-width="1.2"/>
<text x="539.83" y="234.20" font-size="8.9" text-anchor="middle" font-weight="normal">10</text>
<line x1="606.95" y1="218.7" x2="606.95" y2="221.5" stroke="#000" stroke-width="1.2"/>
<text x="606.95" y="234.20" font-size="8.9" text-anchor="middle" font-weight="normal">20</text>
<line x1="674.08" y1="218.7" x2="674.08" y2="221.5" stroke="#000" stroke-width="1.2"/>
<text x="674.08" y="234.20" font-size="8.9" text-anchor="middle" font-weight="normal">30</text>
<line x1="741.20" y1="218.7" x2="741.20" y2="221.5" stroke="#000" stroke-width="1.2"/>
<text x="741.20" y="234.20" font-size="8.9" text-anchor="middle" font-weight="normal">40</text>
<text x="607.50" y="251.90" font-size="9.6" text-anchor="middle" font-weight="bold">Relative abundance (%)</text>
<text transform="translate(368.4,119.4) rotate(-90)" font-size="9.6" font-weight="bold" text-anchor="middle">Bacterial classes</text>
<text x="362.5" y="14.7" font-size="19.4" letter-spacing="0.8">b)</text>
<rect x="250.6" y="263.8" width="20.4" height="5.2" fill="#000" stroke="#000" stroke-width="0.9"/>
<text x="276.10" y="269.40" font-size="8.6" text-anchor="start" font-weight="normal">t0</text>
<rect x="297.3" y="263.8" width="20.4" height="5.2" fill="#808080" stroke="#000" stroke-width="0.9"/>
<text x="322.50" y="269.40" font-size="8.6" text-anchor="start" font-weight="normal">UNF10</text>
<rect x="357.2" y="263.8" width="20.4" height="5.2" fill="url(#dots)" stroke="#000" stroke-width="0.9"/>
<text x="382.60" y="269.40" font-size="8.6" text-anchor="start" font-weight="normal">UNF20</text>
<rect x="418.1" y="263.8" width="20.4" height="5.2" fill="#e8e8e8" stroke="#000" stroke-width="0.9"/>
<text x="444.00" y="269.40" font-size="8.6" text-anchor="start" font-weight="normal">NPK10</text>
<rect x="480.3" y="263.8" width="20.4" height="5.2" fill="url(#hatch)" stroke="#000" stroke-width="0.9"/>
<text x="505.70" y="269.40" font-size="8.6" text-anchor="start" font-weight="normal">NPK20</text>
</svg>
</body></html>
